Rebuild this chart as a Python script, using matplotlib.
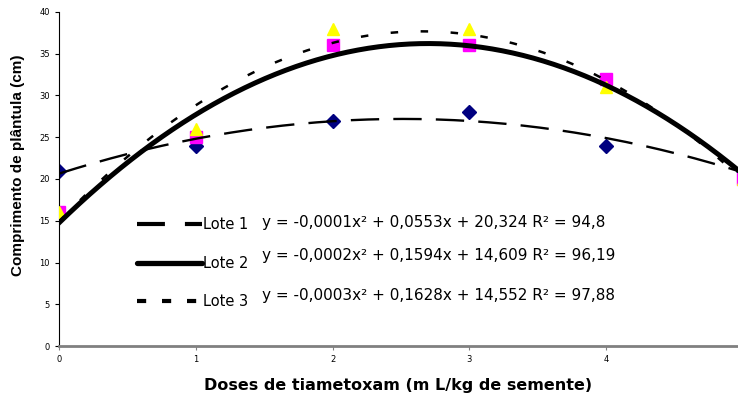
import matplotlib.pyplot as plt
from matplotlib.lines import Line2D
import numpy as np

plt.rcParams['font.family'] = ['DejaVu Sans']

# doses (tick units) and seedling length per lot
doses = [0, 1, 2, 3, 4, 5]
lote1 = [21, 24, 27, 28, 24, 21]
lote2 = [16, 25, 36, 36, 32, 20]
lote3 = [16, 26, 38, 38, 31, 20]

x_ticks = [0, 1, 2, 3, 4]
y_ticks = [0, 5, 10, 15, 20, 25, 30, 35, 40]

equations = ['y = -0,0001x² + 0,0553x + 20,324 R² = 94,8',
             'y = -0,0002x² + 0,1594x + 14,609 R² = 96,19',
             'y = -0,0003x² + 0,1628x + 14,552 R² = 97,88']
labels = ['Lote 1', 'Lote 2', 'Lote 3']

fig = plt.figure(figsize=(7.38, 3.96), dpi=100)
ax = fig.add_axes([0.080, 0.126, 0.920, 0.844])

# markers
ax.plot(doses, lote1, 'D', color='#000080', ms=7, zorder=2)
ax.plot(doses, lote2, 's', color='#ff00ff', ms=9, zorder=2)
ax.plot(doses, lote3, '^', color='#ffff00', ms=8.5, zorder=3)

# quadratic trend lines (as the spreadsheet did)
xs = np.linspace(0, 5, 200)
curve_styles = [dict(ls=(0, (12, 6)), lw=1.7),
                dict(ls='-', lw=3.6),
                dict(ls=(0, (3, 9)), lw=1.8)]
for ys, st in zip([lote1, lote2, lote3], curve_styles):
    c = np.polyfit(doses, ys, 2)
    ax.plot(xs, np.polyval(c, xs), color='black', zorder=4, **st)

# legend keys drawn a bit heavier, like the original
handles = [Line2D([], [], color='black', lw=3, ls=(0, (6.7, 4.8))),
           Line2D([], [], color='black', lw=3.8, ls='-', solid_capstyle='round'),
           Line2D([], [], color='black', lw=3, ls=(0, (2.2, 3.8)))]
ax.legend(handles, labels, loc='upper left', bbox_to_anchor=(0.115, 0.385),
          frameon=False, handlelength=4.45, handletextpad=0.05,
          labelspacing=1.6, fontsize=10.5, borderpad=0, borderaxespad=0)

eq_y = [0.371, 0.272, 0.150]
for eq, yy in zip(equations, eq_y):
    ax.text(0.299, yy, eq, transform=ax.transAxes,
            fontsize=11, va='center', ha='left')

ax.set_xlim(0, 4.965)
ax.set_ylim(0, 40)
ax.set_xticks(x_ticks)
ax.set_yticks(y_ticks)
ax.tick_params(axis='both', labelsize=6, length=3, width=0.8)
ax.tick_params(axis='x', colors='#808080', labelcolor='black')

ax.spines['top'].set_visible(False)
ax.spines['right'].set_visible(False)
ax.spines['bottom'].set_color('#808080')
ax.spines['bottom'].set_linewidth(2)
ax.spines['left'].set_linewidth(0.8)

ax.set_xlabel('Doses de tiametoxam (m L/kg de semente)', fontsize=11.5,
              fontweight='bold', labelpad=10)
ax.set_ylabel('Comprimento de plântula (cm)', fontsize=11,
              fontweight='bold', family='Liberation Sans')
ax.yaxis.set_label_coords(-0.050, 0.54)

fig.savefig('out.png', dpi=100)
